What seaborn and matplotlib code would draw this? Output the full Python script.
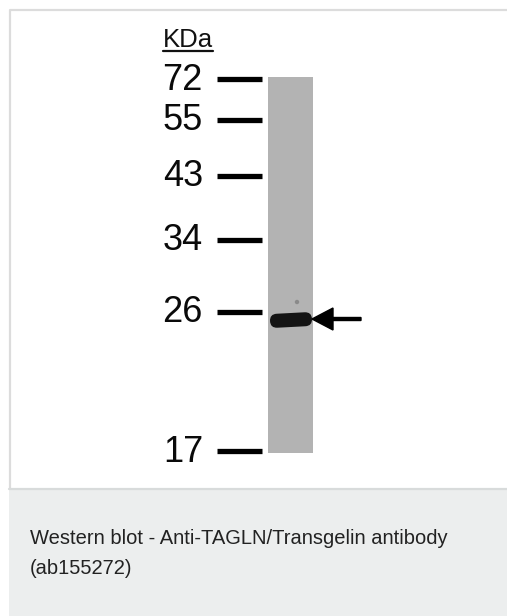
import numpy as np
import pandas as pd
import seaborn as sns
from matplotlib import pyplot as plt
from matplotlib.patches import Rectangle, FancyBboxPatch
from matplotlib.transforms import Affine2D

# ladder markers (kDa) and where they ran on the blot (pixels from top)
marker_kda = ['72', '55', '43', '34', '26', '17']
marker_pos = [79, 120, 176, 240, 312, 451]
band_pos = 320  # detected TAGLN band, just under the 26 marker
caption_lines = ['Western blot - Anti-TAGLN/Transgelin antibody', '(ab155272)']

sns.set_theme(style='white')
plt.rcParams['font.family'] = ['Liberation Sans', 'DejaVu Sans']

W, H = 507, 616
fig = plt.figure(figsize=(W / 100, H / 100), dpi=100)
ax = fig.add_axes([0, 0, 1, 1])

# frame + caption panel
ax.add_patch(Rectangle((9, 9), W - 9, 479, facecolor='white', edgecolor='none'))
ax.plot([10, 10, W], [488, 10, 10], color='#dcdcdc', lw=1.6, solid_capstyle='butt')
ax.add_patch(Rectangle((9, 489), W - 9, H - 489, facecolor='#eceeee', edgecolor='none'))
ax.plot([9, W], [488.5, 488.5], color='#d8dbdb', lw=1.6)

# gel lane
lane_x0, lane_x1 = 268, 313
ax.add_patch(Rectangle((lane_x0, 77), lane_x1 - lane_x0, 453 - 77,
                       facecolor='#b3b3b3', edgecolor='none'))

# marker ticks
ticks = pd.DataFrame({
    'x': [217, 262] * len(marker_kda),
    'y': np.repeat(marker_pos, 2),
    'marker': np.repeat(marker_kda, 2),
})
sns.lineplot(data=ticks, x='x', y='y', units='marker', estimator=None,
             color='black', lw=3.8, ax=ax, sort=False, solid_capstyle='butt')
ax.set_xlim(0, W)
ax.set_ylim(H, 0)
ax.axis('off')

for lab, y in zip(marker_kda, marker_pos):
    ax.text(203, y + 1, lab, ha='right', va='center', fontsize=26, color='#0a0a0a')

ax.text(188, 40, 'KDa', ha='center', va='center', fontsize=18.5, color='#111111')
ax.plot([163, 213], [50.5, 50.5], color='#111111', lw=1.6)

# band
band = FancyBboxPatch((270, band_pos - 7), 42, 14,
                      boxstyle='round,pad=0,rounding_size=7',
                      facecolor='#141414', edgecolor='none')
band.set_transform(Affine2D().rotate_deg_around(291, band_pos, -3) + ax.transData)
ax.add_patch(band)
ax.add_patch(plt.Circle((297, 302), 1.5, color='#8a8a8a'))

# arrow pointing at the band
ax.arrow(361, band_pos - 1, -49, 0, width=3, head_width=22, head_length=21,
         length_includes_head=True, color='black')

ax.text(30, 538, caption_lines[0], ha='left', va='center', fontsize=14.5, color='#222222')
ax.text(30, 569, caption_lines[1], ha='left', va='center', fontsize=14.5, color='#222222')

fig.savefig('out.png', dpi=100)
